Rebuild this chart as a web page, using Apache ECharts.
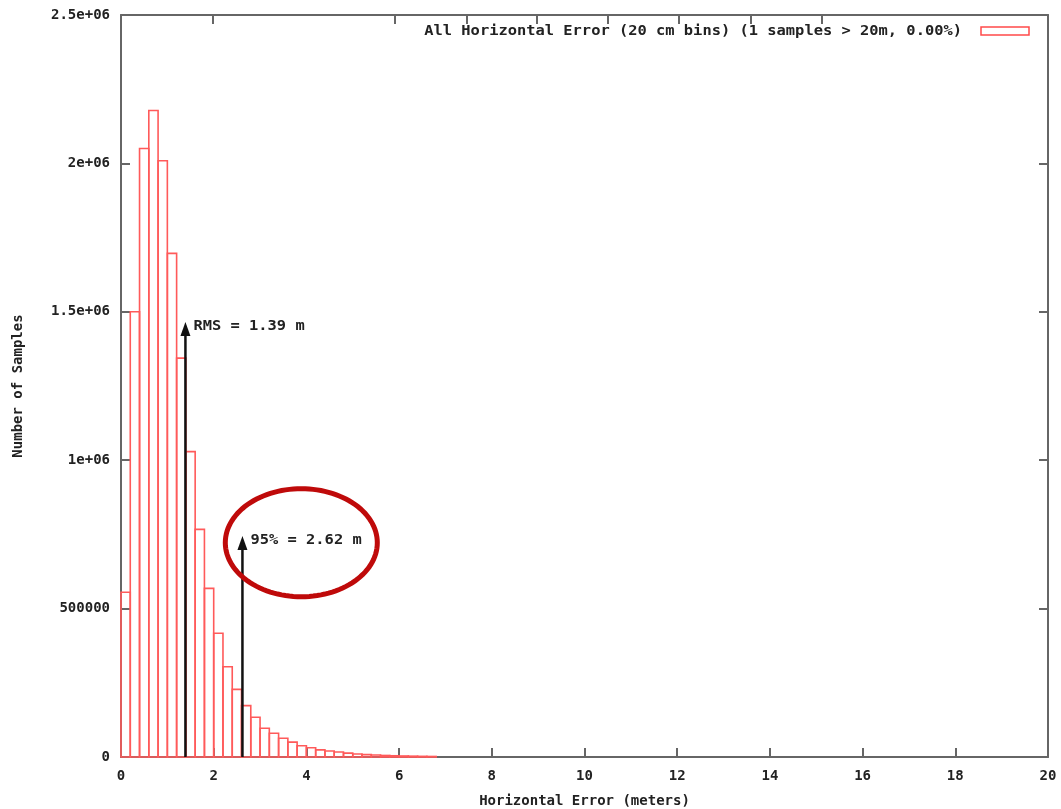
<!DOCTYPE html>
<html>
<head>
<meta charset="utf-8">
<script src="https://cdn.jsdelivr.net/npm/echarts@6/dist/echarts.min.js"></script>
<style>
  html, body { margin: 0; padding: 0; background: #fff; }
  #chart { width: 1061px; height: 809px; }
</style>
</head>
<body>
<div id="chart"></div>
<script>
// Histogram of horizontal error, 20 cm bins (bin start in metres, sample counts)
const binWidth = 0.2;
const binStart = [0, 0.2, 0.4, 0.6, 0.8, 1.0, 1.2, 1.4, 1.6, 1.8,
                  2.0, 2.2, 2.4, 2.6, 2.8, 3.0, 3.2, 3.4, 3.6, 3.8,
                  4.0, 4.2, 4.4, 4.6, 4.8, 5.0, 5.2, 5.4, 5.6, 5.8,
                  6.0, 6.2, 6.4, 6.6];
const counts = [555000, 1500000, 2050000, 2178000, 2009000, 1697000, 1344000, 1029000, 767000, 568000,
                417000, 304000, 228000, 173000, 134000, 97000, 80000, 63000, 50000, 38000,
                31000, 24000, 20000, 17000, 13000, 10000, 8000, 6500, 5200, 4200,
                3400, 2800, 2200, 1800];

// Statistic markers (arrow position in metres, arrow tip height in samples)
const markerNames = ['RMS', '95%'];
const markerX = [1.39, 2.62];
const markerTop = [1466000, 745000];

// Highlight ring around the 95% label (centre in data units)
const ringCenter = [3.89, 722000];

// Axis tick labels
const xTickLabels = ['0', '2', '4', '6', '8', '10', '12', '14', '16', '18', '20'];
const yTickLabels = ['0', '500000', '1e+06', '1.5e+06', '2e+06', '2.5e+06'];
const topTicks = [1.98, 5.91, 7.46, 8.98, 10.51, 12.04, 13.59, 15.12];

const legendText = 'All Horizontal Error (20 cm bins) (1 samples > 20m, 0.00%)';

const FONT = '"DejaVu Sans Mono", "Liberation Mono", monospace';
const TEXT = '#222';
const FRAME = '#666';

const chart = echarts.init(document.getElementById('chart'), null, { renderer: 'canvas' });

const axisCommon = {
  axisLine: { show: true, onZero: false, lineStyle: { color: FRAME, width: 2 } },
  splitLine: { show: false },
  axisTick: { show: true, inside: true, length: 9, lineStyle: { color: FRAME, width: 2 } }
};

chart.setOption({
  animation: false,
  backgroundColor: '#fff',
  grid: { left: 121, right: 13, top: 15, bottom: 52, containLabel: false, outerBoundsMode: 'none' },
  xAxis: [
    Object.assign({}, axisCommon, {
      type: 'value', position: 'bottom', min: 0, max: 20, interval: 2,
      axisLabel: {
        margin: 12, color: TEXT, fontFamily: FONT, fontWeight: 'bold', fontSize: 14,
        formatter: v => xTickLabels[Math.round(v / 2)]
      },
      name: 'Horizontal Error (meters)', nameLocation: 'middle', nameGap: 37,
      nameTextStyle: { color: TEXT, fontFamily: FONT, fontWeight: 'bold', fontSize: 14 }
    }),
    Object.assign({}, axisCommon, {
      type: 'value', position: 'top', min: 0, max: 20,
      axisLabel: { show: false },
      axisTick: { show: true, inside: true, length: 9, customValues: topTicks,
                  lineStyle: { color: FRAME, width: 2 } }
    })
  ],
  yAxis: [
    Object.assign({}, axisCommon, {
      type: 'value', position: 'left', min: 0, max: 2500000, interval: 500000,
      axisLabel: {
        margin: 11, color: TEXT, fontFamily: FONT, fontWeight: 'bold', fontSize: 14,
        formatter: v => yTickLabels[Math.round(v / 500000)]
      },
      name: 'Number of Samples', nameLocation: 'middle', nameRotate: 90, nameGap: 96,
      nameTextStyle: { color: TEXT, fontFamily: FONT, fontWeight: 'bold', fontSize: 14 }
    }),
    Object.assign({}, axisCommon, {
      type: 'value', position: 'right', min: 0, max: 2500000, interval: 500000,
      axisLabel: { show: false }
    })
  ],
  series: [
    {
      // histogram boxes, outline only
      type: 'custom',
      xAxisIndex: 0, yAxisIndex: 0,
      data: binStart.map((b, i) => [b, counts[i]]),
      encode: { x: 0, y: 1 },
      renderItem: (params, api) => {
        const x0 = api.value(0);
        const top = api.coord([x0, api.value(1)]);
        const base = api.coord([x0 + binWidth, 0]);
        return {
          type: 'rect',
          shape: { x: top[0], y: top[1], width: base[0] - top[0], height: base[1] - top[1] },
          style: { fill: 'none', stroke: '#ff5a5a', lineWidth: 1.6 }
        };
      }
    },
    {
      // RMS / 95% arrows with their labels
      type: 'custom',
      xAxisIndex: 0, yAxisIndex: 0,
      data: markerX.map((x, i) => [x, markerTop[i], i]),
      encode: { x: 0, y: 1 },
      z: 5,
      renderItem: (params, api) => {
        const x = api.value(0);
        const i = api.value(2);
        const tip = api.coord([x, api.value(1)]);
        const base = api.coord([x, 0]);
        const headH = 14, headW = 5;
        return {
          type: 'group',
          children: [
            { type: 'line',
              shape: { x1: base[0], y1: base[1], x2: tip[0], y2: tip[1] + headH - 2 },
              style: { stroke: '#111', lineWidth: 2.5 } },
            { type: 'polygon',
              shape: { points: [[tip[0], tip[1]], [tip[0] - headW, tip[1] + headH], [tip[0] + headW, tip[1] + headH]] },
              style: { fill: '#111' } },
            { type: 'text', x: tip[0] + 8, y: tip[1] + 4, scaleX: 1.1,
              style: { text: markerNames[i] + ' = ' + x.toFixed(2) + ' m',
                       font: 'bold 14px ' + FONT, fill: TEXT,
                       align: 'left', verticalAlign: 'middle',
                       textAlign: 'left', textVerticalAlign: 'middle' } }
          ]
        };
      }
    },
    {
      // red highlight ring
      type: 'custom',
      xAxisIndex: 0, yAxisIndex: 0,
      data: [ringCenter],
      encode: { x: 0, y: 1 },
      z: 6,
      renderItem: (params, api) => {
        const c = api.coord([api.value(0), api.value(1)]);
        const rx = 76, ry = 54, pts = [];
        for (let k = 0; k < 120; k++) {
          const t = (k / 120) * Math.PI * 2;
          pts.push([c[0] + rx * Math.cos(t), c[1] + ry * Math.sin(t)]);
        }
        return {
          type: 'polygon',
          shape: { points: pts },
          style: { fill: 'none', stroke: '#bf0a0a', lineWidth: 5 }
        };
      }
    }
  ],
  graphic: [
    { type: 'text', x: 962, y: 31, scaleX: 1.1,
      style: { text: legendText, font: 'bold 14px ' + FONT, fill: TEXT,
               align: 'right', verticalAlign: 'middle',
               textAlign: 'right', textVerticalAlign: 'middle' } },
    { type: 'rect', shape: { x: 981, y: 27, width: 48, height: 8 },
      style: { fill: 'none', stroke: '#ff4a4a', lineWidth: 1.5 } }
  ]
});
</script>
</body>
</html>
